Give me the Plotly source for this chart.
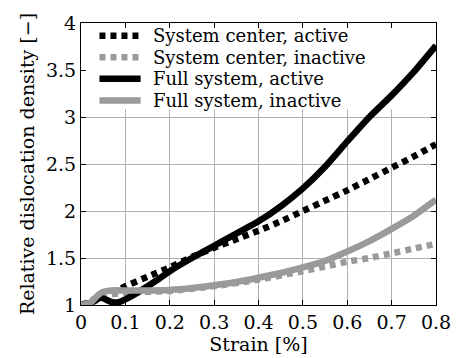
import plotly.graph_objects as go

# Strain [%] and relative dislocation density for each series
strain_fa = [0.0, 0.02, 0.035, 0.045, 0.055, 0.07, 0.085, 0.1, 0.13, 0.17, 0.2, 0.25, 0.3, 0.35,
             0.4, 0.45, 0.5, 0.55, 0.6, 0.65, 0.7, 0.75, 0.8]
full_active = [1.0, 1.02, 1.06, 1.08, 1.06, 1.03, 1.03, 1.06, 1.14, 1.26, 1.36, 1.50, 1.63, 1.76,
               1.89, 2.05, 2.24, 2.47, 2.74, 3.00, 3.23, 3.48, 3.76]

strain_ca = [0.0, 0.03, 0.05, 0.08, 0.1, 0.15, 0.2, 0.25, 0.3, 0.35, 0.4, 0.45, 0.5, 0.55,
             0.6, 0.65, 0.7, 0.75, 0.8]
center_active = [1.0, 1.04, 1.10, 1.15, 1.20, 1.30, 1.40, 1.51, 1.61, 1.70, 1.79, 1.89, 2.0, 2.11,
                 2.22, 2.34, 2.46, 2.58, 2.71]

strain_fi = [0.0, 0.02, 0.035, 0.05, 0.07, 0.1, 0.15, 0.2, 0.25, 0.3, 0.35, 0.4, 0.45, 0.5,
             0.55, 0.6, 0.65, 0.7, 0.75, 0.8]
full_inactive = [1.0, 1.02, 1.09, 1.14, 1.155, 1.155, 1.155, 1.16, 1.18, 1.21, 1.245, 1.29, 1.34,
                 1.40, 1.47, 1.57, 1.68, 1.81, 1.95, 2.12]

strain_ci = [0.0, 0.05, 0.1, 0.2, 0.3, 0.4, 0.5, 0.55, 0.6, 0.65, 0.7, 0.75, 0.8]
center_inactive = [1.0, 1.10, 1.13, 1.15, 1.20, 1.27, 1.36, 1.41, 1.46, 1.50, 1.55, 1.60, 1.65]

series_names = ["System center, active", "System center, inactive",
                "Full system, active", "Full system, inactive"]

x_ticks = [0, 0.1, 0.2, 0.3, 0.4, 0.5, 0.6, 0.7, 0.8]
x_tick_text = ["0", "0.1", "0.2", "0.3", "0.4", "0.5", "0.6", "0.7", "0.8"]
y_ticks = [1, 1.5, 2, 2.5, 3, 3.5, 4]
y_tick_text = ["1", "1.5", "2", "2.5", "3", "3.5", "4"]

BLACK = "#000000"
GRAY = "#9a9a9a"
FONT = "DejaVu Serif"
FS = 19
LEG_FS = 18
W = 6.5
DOTS = "6px,5px"

styles = [
    dict(color=BLACK, width=W, dash=DOTS),
    dict(color=GRAY, width=W, dash=DOTS),
    dict(color=BLACK, width=W, dash="solid"),
    dict(color=GRAY, width=W, dash="solid"),
]
series = [(strain_ca, center_active), (strain_ci, center_inactive),
          (strain_fa, full_active), (strain_fi, full_inactive)]

fig = go.Figure()
for name, (xs, ys), st in zip(series_names, series, styles):
    fig.add_trace(go.Scatter(x=xs, y=ys, mode="lines", name=name, showlegend=False,
                             line=dict(shape="spline", smoothing=0.5, **st)))

# white backdrop behind the legend, hiding the grid there
fig.add_shape(type="rect", xref="x", yref="y", x0=0, x1=0.8, y0=3.08, y1=4,
              fillcolor="white", line=dict(width=0), layer="between")

# legend: sample line plus label for each series, stacked from the top
leg_x0, leg_x1, leg_text_x = 0.052, 0.168, 0.200
leg_top, leg_step = 0.955, 0.0765
for i, (name, st) in enumerate(zip(series_names, styles)):
    yy = leg_top - i * leg_step
    fig.add_shape(type="line", xref="paper", yref="paper", x0=leg_x0, x1=leg_x1, y0=yy, y1=yy,
                  line=st, layer="above")
    fig.add_annotation(xref="paper", yref="paper", x=leg_text_x, y=yy, text=name,
                       showarrow=False, xanchor="left", yanchor="middle", borderpad=0,
                       font=dict(family=FONT, size=LEG_FS, color="black"))

axis_common = dict(showline=True, linecolor="black", linewidth=1.2, mirror="ticks",
                   ticks="inside", ticklen=5, tickcolor="black",
                   showgrid=True, gridcolor="#b0b0b0", gridwidth=0.6, zeroline=False,
                   ticklabeloverflow="allow",
                   tickfont=dict(family=FONT, size=FS, color="black"))

fig.update_layout(
    width=463, height=358,
    margin=dict(l=81, r=14, t=20, b=48),
    paper_bgcolor="white", plot_bgcolor="white",
    font=dict(family=FONT, size=FS, color="black"),
    showlegend=False,
    xaxis=dict(range=[0, 0.8], tickvals=x_ticks, ticktext=x_tick_text,
               title=dict(text="Strain [%]", font=dict(family=FONT, size=FS), standoff=0),
               **axis_common),
    yaxis=dict(range=[1, 4], tickvals=y_ticks, ticktext=y_tick_text,
               title=dict(text="Relative dislocation density [\u2212]", font=dict(family=FONT, size=FS),
                          standoff=6),
               **axis_common),
)

fig.write_html("out.html")
